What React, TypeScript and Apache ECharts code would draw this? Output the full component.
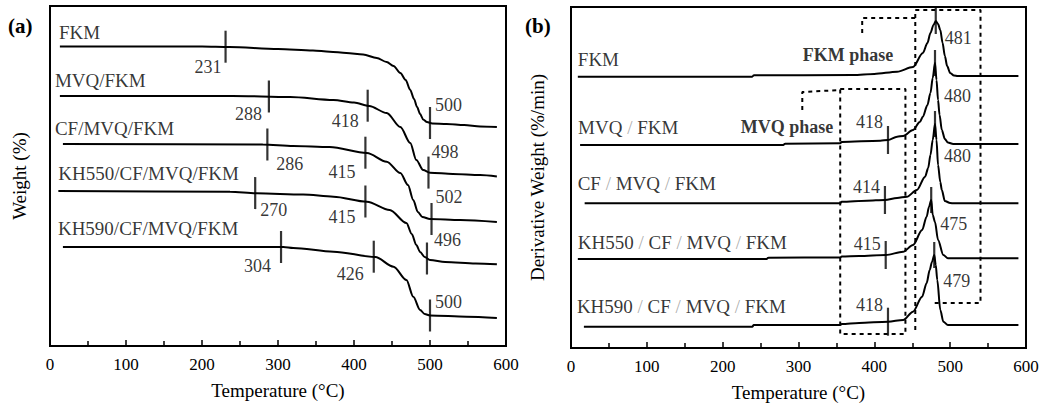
import React, { useEffect, useRef } from "react";
import * as echarts from "echarts";

const FONT = '"Liberation Serif", "Times New Roman", serif';

// ---------- axis ----------
const TEMP_MIN = 0;
const TEMP_MAX = 600;
const TEMP_STEP = 100;

// ---------- (a) TG curves: [temperature °C, stacked weight trace] ----------
const tgNames = ["FKM", "MVQ/FKM", "CF/MVQ/FKM", "KH550/CF/MVQ/FKM", "KH590/CF/MVQ/FKM"];

const tgFKM = [
  [13, 299.5], [200, 299.5], [236, 299], [300, 297], [346, 295.5], [368, 294.3], [390, 293], [412, 291.5],
  [430, 288], [443, 284], [452, 280], [461, 273], [468, 266], [474, 256], [479, 247], [483, 239],
  [487, 232], [491, 226.5], [496, 224], [503, 222.5], [522, 222], [545, 221], [566, 219.5], [588, 219],
];
const tgMVQ = [
  [13, 250], [240, 250], [316, 249], [373, 246], [400, 243.5], [420, 240], [443, 233], [461, 219],
  [474, 203], [482, 186], [491, 176], [500, 173.3], [530, 172], [566, 171], [588, 169.5],
];
const tgCF = [
  [17, 202], [280, 201.5], [320, 200], [368, 199], [417, 193], [443, 184.3], [461, 173], [471, 161],
  [478, 146], [484, 134], [490, 129], [500, 127], [540, 126], [588, 124],
];
const tgKH550 = [
  [11, 155], [237, 154.3], [272, 152.7], [333, 151.5], [373, 149.3], [417, 144.3], [447, 136], [469, 123],
  [476, 112], [482, 101], [487, 94], [493, 89], [500, 86], [520, 84], [560, 82.5], [588, 81.7],
];
const tgKH590 = [
  [17, 99], [307, 99], [320, 98], [373, 94.3], [428, 89], [452, 79.3], [469, 66], [478, 49.3],
  [487, 36], [493, 32], [500, 30.5], [548, 29.3], [588, 28],
];
const tgCurves = [tgFKM, tgMVQ, tgCF, tgKH550, tgKH590];

// marked temperatures on each TG curve
const tgMarksFKM = [[231, 299.3], [500, 223]];
const tgMarksMVQ = [[288, 249.5], [418, 240.3], [498, 173.4]];
const tgMarksCF = [[286, 201.5], [415, 193.3], [502, 127]];
const tgMarksKH550 = [[270, 152.9], [415, 144.5], [496, 87.5]];
const tgMarksKH590 = [[304, 99], [426, 89.3], [500, 30.5]];
const tgMarks = [tgMarksFKM, tgMarksMVQ, tgMarksCF, tgMarksKH550, tgMarksKH590];

// ---------- (b) DTG curves ----------
const dtgNames = ["FKM", "MVQ / FKM", "CF / MVQ / FKM", "KH550 / CF / MVQ / FKM", "KH590 / CF / MVQ / FKM"];

const dtgFKM = [
  [9, 271.3], [239, 271.3], [241, 272.7], [372, 273], [400, 274], [430, 276.3], [451, 281], [464, 295],
  [470, 305], [474, 315], [478, 323], [481, 327], [484, 324], [487, 318], [490, 305], [493, 292],
  [496, 282], [500, 275], [505, 272.5], [510, 272], [590, 272],
];
const dtgMVQ = [
  [12, 203], [280, 203], [282, 204.3], [355, 204.7], [357, 206], [408, 207.3], [418, 208], [430, 211.3],
  [438, 212], [451, 218], [460, 226], [464, 231.3], [470, 243], [474, 255], [477, 270], [480, 285],
  [482, 268], [484, 248], [486, 233], [489, 218], [493, 209], [497, 205.5], [504, 204], [590, 204],
];
const dtgCF = [
  [18, 144.7], [355, 144.7], [357, 146.3], [390, 147.3], [414, 148], [430, 150], [443, 151.3], [456, 158],
  [467, 171.3], [471, 180], [474, 193], [477, 208], [480, 224], [482, 208], [484, 183], [487, 166],
  [489, 158], [493, 147], [500, 145], [505, 144.7], [590, 144.7],
];
const dtgKH550 = [
  [9, 89], [258, 89], [260, 90.3], [355, 90.5], [357, 91.5], [380, 92], [415, 93], [438, 96.3],
  [451, 103], [463, 118], [469, 131.3], [472, 141], [475, 148], [477, 133], [480, 126], [484, 108],
  [491, 93], [497, 89.7], [590, 89.7],
];
const dtgKH590 = [
  [17, 21.3], [239, 21.3], [241, 23], [355, 23], [357, 24], [380, 25], [418, 26.3], [438, 28],
  [451, 36.3], [463, 51.3], [469, 65], [473, 78], [476, 86], [479, 93], [481, 83], [483, 68],
  [487, 38], [491, 26.3], [497, 23], [590, 23],
];
const dtgCurves = [dtgFKM, dtgMVQ, dtgCF, dtgKH550, dtgKH590];

// onset of MVQ-phase loss and DTG peak temperatures
const dtgOnset = [[418, 208], [414, 148], [415, 93], [418, 26.3]];
const dtgPeaks = [[481, 327], [480, 285], [480, 224], [475, 148], [479, 93]];

// phase windows (temperature ranges) drawn as dashed frames
const fkmPhaseTab = [[384, 315], [384, 330], [454, 330]];
const fkmPhaseFrame = [[454, 18], [454, 338], [540, 338], [540, 45], [478, 45]];
const mvqPhaseTab = [[305, 238], [305, 256], [355, 258]];
const mvqPhaseFrame = [[355, 259], [441, 259], [441, 14], [355, 14], [355, 259]];
const phaseLabels = ["FKM phase", "MVQ phase"];

// ---------- layout (label placements, px) ----------
const tgMarkLabelLayout = [
  [["right", -4, 20], ["left", 5, -18]],
  [["right", -7, 17], ["right", -9, 15], ["left", 3, -21]],
  [["left", 9, 19], ["right", -10, 19], ["left", 4, -22]],
  [["left", 5, 17], ["right", -10, 15], ["left", 7, -19]],
  [["right", -10, 19], ["right", -10, 17], ["left", 5, -14]],
];
const tgNameLayout = [[-1, -14], [-5, -16], [-8, -16], [0, -18], [-5, -19]];
const dtgNameLayout = [[0, -17], [-2, -18], [-7, -20], [0, -17], [-7, -20]];
const dtgOnsetLabelLayout = [[-5, -18], [-5, -13], [-5, -11], [-5, -17]];
const dtgPeakLabelLayout = [[9, 17], [9, 33], [9, 32], [9, 24], [9, 26]];
const phaseLabelLayout = [[-22, 37], [-7, 37]];

const BLACK = "#000";
const INK = "#000";

function curveSeries(data: number[][], idx: number, name: string) {
  return {
    type: "line",
    name,
    xAxisIndex: idx,
    yAxisIndex: idx,
    data,
    symbol: "none",
    showSymbol: false,
    smooth: 0.3,
    smoothMonotone: "x",
    lineStyle: { color: BLACK, width: 2 },
    silent: true,
    z: 3,
  };
}

function textLabel(text: string, align: string, dx: number, dy: number, size: number, extra: any = {}) {
  return {
    show: true,
    position: "inside",
    align,
    verticalAlign: "middle",
    offset: [dx, dy],
    formatter: text,
    color: INK,
    fontSize: size,
    fontFamily: FONT,
    textBorderWidth: 0,
    ...extra,
  };
}

function dashed(data: number[][]) {
  return {
    type: "line",
    xAxisIndex: 1,
    yAxisIndex: 1,
    data,
    symbol: "none",
    showSymbol: false,
    lineStyle: { color: BLACK, width: 2, type: [4, 4] },
    silent: true,
    z: 2,
  };
}

function buildOption() {
  const series: any[] = [];

  // (a)
  tgCurves.forEach((c, i) => series.push(curveSeries(c, 0, tgNames[i])));
  tgMarks.forEach((marks, i) => {
    series.push({
      type: "scatter",
      xAxisIndex: 0,
      yAxisIndex: 0,
      symbol: "rect",
      symbolSize: [2.2, 32],
      itemStyle: { color: BLACK },
      silent: true,
      z: 4,
      data: marks.map((m, j) => {
        const [al, dx, dy] = tgMarkLabelLayout[i][j] as [string, number, number];
        return { value: m, label: textLabel(String(m[0]), al, dx, dy, 18) };
      }),
    });
  });
  series.push({
    type: "scatter",
    xAxisIndex: 0,
    yAxisIndex: 0,
    symbolSize: 1,
    itemStyle: { color: "rgba(0,0,0,0)" },
    silent: true,
    data: tgCurves.map((c, i) => ({
      value: c[0],
      label: textLabel(tgNames[i], "left", tgNameLayout[i][0], tgNameLayout[i][1], 19),
    })),
  });

  // (b)
  dtgCurves.forEach((c, i) => series.push(curveSeries(c, 1, dtgNames[i])));
  series.push({
    type: "scatter",
    xAxisIndex: 1,
    yAxisIndex: 1,
    symbol: "rect",
    symbolSize: [2.2, 28],
    itemStyle: { color: BLACK },
    silent: true,
    z: 4,
    data: dtgOnset.map((m, j) => ({
      value: m,
      label: textLabel(String(m[0]), "right", dtgOnsetLabelLayout[j][0], dtgOnsetLabelLayout[j][1], 18),
    })),
  });
  series.push({
    type: "scatter",
    xAxisIndex: 1,
    yAxisIndex: 1,
    symbol: "rect",
    symbolSize: [2.2, 26],
    itemStyle: { color: BLACK },
    silent: true,
    z: 4,
    data: dtgPeaks.map((m, j) => ({
      value: m,
      label: textLabel(String(m[0]), "left", dtgPeakLabelLayout[j][0], dtgPeakLabelLayout[j][1], 18),
    })),
  });
  series.push({
    type: "scatter",
    xAxisIndex: 1,
    yAxisIndex: 1,
    symbolSize: 1,
    itemStyle: { color: "rgba(0,0,0,0)" },
    silent: true,
    data: dtgCurves.map((c, i) => ({
      value: c[0],
      label: textLabel(
        dtgNames[i].split(" / ").join(" {s|/} "),
        "left",
        dtgNameLayout[i][0],
        dtgNameLayout[i][1],
        19,
        { rich: { s: { color: "#9a9a9a", fontSize: 19, fontFamily: FONT } } }
      ),
    })),
  });
  series.push(dashed(fkmPhaseTab), dashed(fkmPhaseFrame), dashed(mvqPhaseTab), dashed(mvqPhaseFrame));
  series.push({
    type: "scatter",
    xAxisIndex: 1,
    yAxisIndex: 1,
    symbolSize: 1,
    itemStyle: { color: "rgba(0,0,0,0)" },
    silent: true,
    data: [fkmPhaseTab[2], mvqPhaseTab[2]].map((p, i) => ({
      value: p,
      label: textLabel(phaseLabels[i], "right", phaseLabelLayout[i][0], phaseLabelLayout[i][1], 18, {
        fontWeight: "bold",
      }),
    })),
  });

  const xAxis = (gridIndex: number) => ({
    type: "value",
    gridIndex,
    min: TEMP_MIN,
    max: TEMP_MAX,
    interval: TEMP_STEP,
    name: "Temperature (°C)",
    nameLocation: "middle",
    nameGap: 35,
    nameTextStyle: { fontFamily: FONT, fontSize: 19, color: INK },
    axisLine: { lineStyle: { color: BLACK, width: 2 } },
    axisTick: { inside: true, length: 6, lineStyle: { color: BLACK, width: 1.5 } },
    minorTick: { show: true, splitNumber: 2, length: 5, lineStyle: { color: BLACK, width: 1.5 } },
    axisLabel: { fontFamily: FONT, fontSize: 17, color: INK, margin: 10 },
    splitLine: { show: false },
  });
  const yAxis = (gridIndex: number, max: number, name: string, gap: number) => ({
    type: "value",
    gridIndex,
    min: 0,
    max,
    name,
    nameLocation: "middle",
    nameRotate: 90,
    nameGap: gap,
    nameTextStyle: { fontFamily: FONT, fontSize: 19, color: INK },
    axisLine: { show: true, lineStyle: { color: BLACK, width: 2 } },
    axisTick: { show: false },
    axisLabel: { show: false },
    splitLine: { show: false },
  });

  return {
    animation: false,
    backgroundColor: "#fff",
    grid: [
      { left: 50, top: 6, width: 456, height: 340, show: true, borderColor: BLACK, borderWidth: 2 },
      { left: 571, top: 7, width: 455, height: 341, show: true, borderColor: BLACK, borderWidth: 2 },
    ],
    xAxis: [xAxis(0), xAxis(1)],
    yAxis: [yAxis(0, 340, "Weight (%)", 21), yAxis(1, 341, "Derivative Weight (%/min)", 24)],
    graphic: [
      { type: "text", left: 8, top: 15, style: { text: "(a)", font: `bold 21px ${FONT}`, fill: INK } },
      { type: "text", left: 525, top: 15, style: { text: "(b)", font: `bold 21px ${FONT}`, fill: INK } },
    ],
    series,
  };
}

export default function App() {
  const ref = useRef<HTMLDivElement>(null);
  useEffect(() => {
    if (!ref.current) return;
    const chart = echarts.init(ref.current, undefined, { renderer: "svg" });
    chart.setOption(buildOption() as any);
    return () => chart.dispose();
  }, []);
  return (
    <div
      ref={ref}
      style={{ position: "absolute", left: 0, top: 0, width: 1043, height: 407, background: "#fff" }}
    />
  );
}
